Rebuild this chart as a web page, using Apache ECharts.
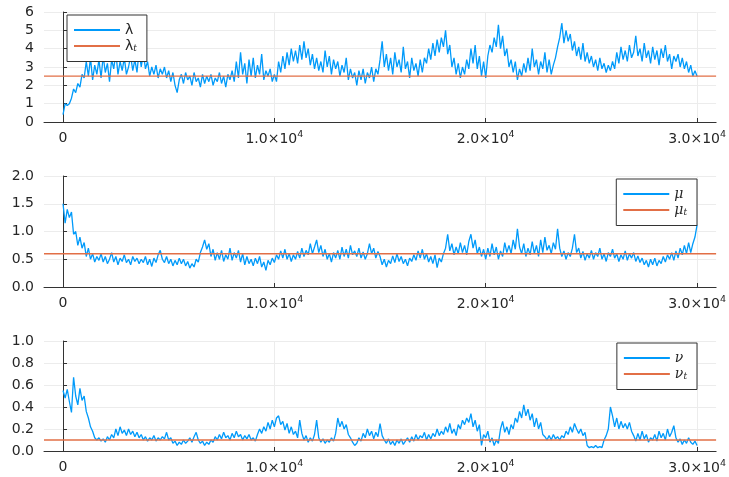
<!DOCTYPE html>
<html>
<head>
<meta charset="utf-8">
<script src="https://cdn.jsdelivr.net/npm/echarts@6/dist/echarts.min.js"></script>
<style>
  html, body { margin: 0; padding: 0; background: #fff; }
  #chart { width: 729px; height: 477px; }
</style>
</head>
<body>
<div id="chart"></div>
<script>
// MCMC traces, one value every 100 iterations
const sampleStep = 100;

const lambdaTrace = [
  0.4, 1.0, 0.9, 1.0, 1.3, 1.8, 1.6, 2.1, 1.9, 2.6,
  2.4, 3.3, 2.5, 3.5, 2.3, 3.1, 2.6, 3.4, 2.4, 3.6,
  2.7, 3.2, 2.2, 3.4, 2.9, 3.8, 2.6, 3.3, 2.8, 3.5,
  2.6, 3.0, 3.6, 2.8, 3.4, 2.7, 3.9, 3.0, 3.75, 2.9,
  3.3, 2.5, 3.0, 2.6, 3.1, 2.4, 2.9, 2.6, 3.0, 2.4,
  2.8, 2.2, 2.7, 2.0, 1.6, 2.3, 2.6, 2.1, 2.7, 2.3,
  2.5, 2.0, 2.7, 2.2, 2.4, 1.9, 2.6, 2.1, 2.5, 2.2,
  2.6, 2.0, 2.4, 2.2, 2.7, 2.1, 2.5, 1.9, 2.6, 2.3,
  2.8, 2.2, 3.3, 2.4, 3.8, 2.6, 3.2, 2.1, 3.4, 2.5,
  3.5, 2.4, 3.1, 2.6, 3.7, 2.3, 2.8, 2.5, 2.9, 2.2,
  2.6, 2.2, 3.3, 2.7, 3.6, 2.9, 3.8, 3.1, 4.0, 3.3,
  3.9, 3.2, 4.2, 3.4, 4.4, 3.5, 4.0, 3.1, 3.7, 2.9,
  3.5, 2.8, 3.3, 2.7, 3.9, 3.0, 3.6, 2.6, 3.4, 2.9,
  3.3, 2.5, 3.1, 2.7, 3.5, 2.3, 2.9, 2.4, 2.7, 2.0,
  2.8, 2.3, 2.9, 2.1, 2.7, 2.4, 3.0, 2.2, 2.9, 2.6,
  3.4, 4.4, 3.0, 3.7, 2.8, 3.5, 2.6, 3.8, 3.0, 3.4,
  2.7, 4.1, 2.9, 3.3, 2.4, 3.5, 2.8, 3.2, 2.5, 3.4,
  2.7, 3.5, 3.2, 4.0, 3.4, 4.3, 3.6, 4.5, 3.8, 4.6,
  4.1, 5.0, 3.7, 4.2, 3.0, 3.5, 2.6, 3.2, 2.4, 3.0,
  2.6, 3.4, 2.9, 4.0, 3.2, 4.2, 2.9, 3.6, 2.5, 3.3,
  2.4, 3.6, 4.2, 3.8, 4.6, 4.1, 5.3, 4.0, 4.7, 3.6,
  4.0, 3.0, 3.4, 2.7, 3.3, 2.3, 2.9, 2.5, 3.2, 2.7,
  3.5, 2.8, 4.0, 3.0, 3.4, 2.6, 3.3, 2.9, 3.8, 2.7,
  3.4, 2.6, 3.1, 3.5, 4.1, 4.6, 5.4, 4.3, 5.0, 4.4,
  4.8, 3.9, 4.4, 3.6, 4.1, 3.4, 4.3, 3.3, 3.8, 3.2,
  3.6, 3.0, 3.4, 2.8, 3.5, 2.9, 3.2, 2.7, 3.1, 2.8,
  3.3, 2.9, 3.8, 3.2, 4.1, 3.4, 3.9, 3.3, 4.2, 3.5,
  3.8, 4.7, 3.6, 4.0, 3.3, 4.3, 3.5, 3.9, 3.2, 4.1,
  3.4, 3.9, 3.1, 4.0, 3.5, 4.2, 3.3, 3.7, 2.9, 3.6,
  3.3, 3.7, 3.0, 3.5, 2.9, 3.3, 2.7, 3.1, 2.5, 2.8,
  2.5
];

const muTrace = [
  1.5, 1.15, 1.4, 1.25, 1.35, 0.95, 1.0, 0.75, 0.9, 0.7,
  0.8, 0.55, 0.7, 0.5, 0.6, 0.45, 0.55, 0.48, 0.6, 0.45,
  0.55, 0.42, 0.5, 0.62, 0.45, 0.55, 0.4, 0.52, 0.46, 0.58,
  0.44, 0.5, 0.4, 0.55, 0.46, 0.52, 0.42, 0.5, 0.44, 0.55,
  0.4, 0.5, 0.37, 0.52, 0.44, 0.58, 0.66, 0.5, 0.44, 0.55,
  0.42, 0.5, 0.38, 0.48, 0.4, 0.52, 0.42, 0.5, 0.38, 0.46,
  0.34, 0.42, 0.36, 0.5, 0.45, 0.62, 0.72, 0.85, 0.68, 0.78,
  0.55, 0.68, 0.48, 0.62, 0.5, 0.66, 0.46, 0.58, 0.5, 0.7,
  0.48, 0.62, 0.52, 0.66, 0.45, 0.6, 0.4, 0.55, 0.42, 0.5,
  0.38, 0.52, 0.42, 0.55, 0.36, 0.45, 0.3, 0.48, 0.4, 0.52,
  0.44, 0.58, 0.5, 0.65, 0.52, 0.68, 0.5, 0.6, 0.46, 0.58,
  0.5, 0.64, 0.52, 0.7, 0.55, 0.66, 0.58, 0.78, 0.6, 0.72,
  0.85, 0.62, 0.75, 0.55, 0.68, 0.5, 0.6, 0.45, 0.62, 0.52,
  0.66, 0.5, 0.72, 0.55, 0.68, 0.52, 0.75, 0.58, 0.65, 0.55,
  0.7, 0.52, 0.63, 0.5, 0.6, 0.78, 0.6, 0.7, 0.52, 0.64,
  0.55, 0.4, 0.5, 0.36, 0.48, 0.42, 0.56, 0.44, 0.6, 0.46,
  0.55, 0.42, 0.5, 0.38, 0.52, 0.46, 0.58, 0.48, 0.65, 0.52,
  0.68, 0.5, 0.6, 0.45, 0.55, 0.42, 0.58, 0.35, 0.52, 0.45,
  0.6, 0.7, 0.95, 0.65, 0.78, 0.58, 0.72, 0.6, 0.8, 0.62,
  0.75, 0.58, 0.82, 0.95, 0.7, 0.85, 0.6, 0.72, 0.55, 0.68,
  0.5, 0.7, 0.55, 0.78, 0.58, 0.72, 0.5, 0.65, 0.55, 0.8,
  0.62, 0.75, 0.6, 0.85, 0.68, 1.05, 0.72, 0.6, 0.78, 0.55,
  0.7, 0.58, 0.82, 0.6, 0.75, 0.55, 0.85, 0.62, 0.9, 0.66,
  0.75, 0.6, 0.8, 0.68, 1.05, 0.7, 0.55, 0.65, 0.5, 0.62,
  0.55, 0.7, 0.95, 0.62, 0.7, 0.52, 0.64, 0.48, 0.6, 0.52,
  0.66, 0.5, 0.62, 0.55, 0.7, 0.5, 0.6, 0.46, 0.62, 0.55,
  0.68, 0.52, 0.6, 0.46, 0.58, 0.5, 0.65, 0.48, 0.6, 0.52,
  0.62, 0.46, 0.56, 0.44, 0.52, 0.4, 0.48, 0.36, 0.5, 0.4,
  0.52, 0.38, 0.48, 0.42, 0.55, 0.45, 0.58, 0.5, 0.62, 0.48,
  0.65, 0.52, 0.7, 0.58, 0.75, 0.6, 0.8, 0.62, 0.78, 0.9,
  1.12
];

const nuTrace = [
  0.55, 0.48, 0.56, 0.45, 0.35, 0.67, 0.5, 0.42, 0.57, 0.46,
  0.5, 0.36, 0.3, 0.22, 0.18, 0.12, 0.1, 0.12, 0.09, 0.11,
  0.08, 0.13, 0.1, 0.15, 0.12, 0.2, 0.14, 0.22, 0.16, 0.19,
  0.14, 0.2, 0.15, 0.18, 0.13, 0.17, 0.12, 0.15, 0.1, 0.13,
  0.09, 0.12, 0.1, 0.14, 0.09, 0.12, 0.1, 0.13, 0.11, 0.17,
  0.1, 0.12, 0.07, 0.09, 0.05, 0.08, 0.06, 0.1, 0.07, 0.09,
  0.12, 0.08, 0.13, 0.17, 0.1, 0.07, 0.09, 0.05, 0.08, 0.06,
  0.1, 0.08, 0.13, 0.1, 0.15, 0.11, 0.17, 0.12, 0.14, 0.1,
  0.16, 0.12, 0.18, 0.13, 0.15, 0.1, 0.14, 0.11, 0.15, 0.1,
  0.12, 0.09, 0.15, 0.2, 0.16, 0.22, 0.18, 0.26, 0.2, 0.28,
  0.22, 0.3, 0.32, 0.24, 0.27, 0.19, 0.25, 0.16, 0.22, 0.15,
  0.18, 0.12, 0.28, 0.16, 0.1, 0.14, 0.08, 0.12, 0.09, 0.15,
  0.28, 0.12, 0.08, 0.11, 0.07, 0.1, 0.08, 0.12, 0.09, 0.16,
  0.3, 0.22, 0.27, 0.2, 0.24, 0.15, 0.12, 0.08, 0.05, 0.07,
  0.12, 0.09, 0.16, 0.12, 0.2, 0.14, 0.18, 0.11, 0.17, 0.13,
  0.25, 0.14, 0.1, 0.07, 0.11, 0.06, 0.09, 0.05, 0.1, 0.07,
  0.11, 0.06, 0.09, 0.12, 0.08, 0.13, 0.09, 0.15, 0.1, 0.14,
  0.12, 0.17, 0.1, 0.15, 0.11, 0.16, 0.13, 0.2, 0.14, 0.18,
  0.15, 0.22, 0.17, 0.25, 0.16, 0.2, 0.14, 0.24, 0.2, 0.28,
  0.24, 0.3, 0.26, 0.34, 0.22, 0.28, 0.18, 0.24, 0.05, 0.15,
  0.12, 0.18, 0.08, 0.12, 0.05, 0.1, 0.07, 0.2, 0.27, 0.17,
  0.22, 0.15, 0.24, 0.2, 0.3, 0.26, 0.36, 0.3, 0.42, 0.32,
  0.38, 0.28, 0.34, 0.22, 0.3, 0.2, 0.26, 0.15, 0.13, 0.1,
  0.14, 0.1, 0.15, 0.11, 0.13, 0.1, 0.14, 0.12, 0.18, 0.15,
  0.22, 0.17, 0.25, 0.2, 0.16, 0.2, 0.14, 0.17, 0.05, 0.03,
  0.04, 0.03, 0.05, 0.03, 0.04, 0.03, 0.1, 0.14, 0.2, 0.4,
  0.32, 0.22, 0.3, 0.2, 0.27, 0.21, 0.25, 0.2, 0.26, 0.18,
  0.14, 0.09, 0.16, 0.1, 0.18, 0.11, 0.15, 0.08, 0.12, 0.1,
  0.15, 0.09, 0.18, 0.12, 0.16, 0.1, 0.2, 0.13, 0.17, 0.23,
  0.12, 0.08, 0.11, 0.06, 0.1, 0.07, 0.12, 0.08, 0.06, 0.09,
  0.05
];

// true parameter values
const lambdaTrue = 2.5;
const muTrue = 0.6;
const nuTrue = 0.1;

// axis settings
const xMin = -900, xMax = 30900;
const xTicks = [0, 10000, 20000, 30000];
const yAxesSpec = [
  { min: 0, max: 6, interval: 1, digits: 0 },
  { min: 0, max: 2, interval: 0.5, digits: 1 },
  { min: 0, max: 1, interval: 0.2, digits: 1 }
];

const BLUE = '#009AFA';
const RED = '#E26F46';
const TEXT = '#262626';
const FONT = 'DejaVu Sans';

const grids = [
  { left: 44, right: 10, top: 12, height: 110 },
  { left: 44, right: 10, top: 176, height: 111 },
  { left: 44, right: 10, top: 341, height: 110 }
];

function toPoints(trace) {
  return trace.map((v, i) => [i * sampleStep, v]);
}

function xLabel(v) {
  if (v === 0) return '{m|0}';
  return '{m|' + (v / 1e4).toFixed(1) + '×10}{e|4}';
}

const xAxes = grids.map((g, i) => ({
  type: 'value', gridIndex: i, min: xMin, max: xMax, position: 'bottom',
  axisLine: { show: true, onZero: false, lineStyle: { color: '#333', width: 1 } },
  axisTick: { show: true, inside: true, length: 4, customValues: xTicks, lineStyle: { color: '#333' } },
  axisLabel: {
    customValues: xTicks, formatter: xLabel, margin: 8, color: TEXT, fontFamily: FONT,
    rich: {
      m: { fontSize: 14, lineHeight: 16, fontFamily: FONT, color: TEXT },
      e: { fontSize: 9.5, fontFamily: FONT, color: TEXT, verticalAlign: 'top', padding: [0, 0, 9, 0] }
    }
  },
  splitLine: { show: true, lineStyle: { color: '#ececec', width: 1 } }
}));

const yAxes = yAxesSpec.map((s, i) => ({
  type: 'value', gridIndex: i, min: s.min, max: s.max, interval: s.interval,
  axisLine: { show: true, lineStyle: { color: '#333', width: 1 } },
  axisTick: { show: true, inside: true, length: 4, lineStyle: { color: '#333' } },
  axisLabel: {
    margin: 10, fontSize: 14, color: TEXT, fontFamily: FONT,
    formatter: v => v.toFixed(s.digits)
  },
  splitLine: { show: true, lineStyle: { color: '#ececec', width: 1 } }
}));

function traceSeries(name, trace, idx) {
  return {
    name: name, type: 'line', xAxisIndex: idx, yAxisIndex: idx,
    data: toPoints(trace), showSymbol: false, symbol: 'none', animation: false,
    lineStyle: { color: BLUE, width: 1.3 }, itemStyle: { color: BLUE }
  };
}
function trueSeries(name, value, idx) {
  return {
    name: name, type: 'line', xAxisIndex: idx, yAxisIndex: idx,
    data: [[xMin, value], [xMax, value]], showSymbol: false, symbol: 'none', animation: false,
    lineStyle: { color: RED, width: 1.4 }, itemStyle: { color: RED }, z: 3
  };
}

const greekRich = {
  g: { fontFamily: 'DejaVu Serif', fontSize: 14, color: TEXT, fontStyle: 'italic' },
  l: { fontFamily: 'DejaVu Sans', fontSize: 14, color: TEXT },
  s: { fontFamily: 'DejaVu Serif', fontSize: 9, color: TEXT, fontStyle: 'italic', verticalAlign: 'bottom', padding: [6, 0, 0, 0] }
};
function legendLabel(name) {
  const base = name.charAt(0);
  const style = base === 'λ' ? 'l' : 'g';
  return name.length > 1 ? '{' + style + '|' + base + '}{s|t}' : '{' + style + '|' + base + '}';
}
function makeLegend(names, pos) {
  return Object.assign({
    data: names.map(n => ({ name: n, icon: 'rect' })),
    orient: 'vertical', itemWidth: 46, itemHeight: 2, itemGap: 2,
    padding: [8, 10, 8, 7],
    backgroundColor: '#fff', borderColor: '#333', borderWidth: 1, borderRadius: 0,
    formatter: legendLabel,
    textStyle: { rich: greekRich, color: TEXT, fontSize: 14 },
    selectedMode: false
  }, pos);
}

const option = {
  backgroundColor: '#fff',
  animation: false,
  grid: grids,
  xAxis: xAxes,
  yAxis: yAxes,
  legend: [
    makeLegend(['λ', 'λt'], { left: 67, top: 15 }),
    makeLegend(['μ', 'μt'], { right: 32, top: 179 }),
    makeLegend(['ν', 'νt'], { right: 32, top: 343 })
  ],
  series: [
    traceSeries('λ', lambdaTrace, 0),
    trueSeries('λt', lambdaTrue, 0),
    traceSeries('μ', muTrace, 1),
    trueSeries('μt', muTrue, 1),
    traceSeries('ν', nuTrace, 2),
    trueSeries('νt', nuTrue, 2)
  ]
};

const chart = echarts.init(document.getElementById('chart'), null, { renderer: 'canvas' });
chart.setOption(option);
</script>
</body>
</html>
